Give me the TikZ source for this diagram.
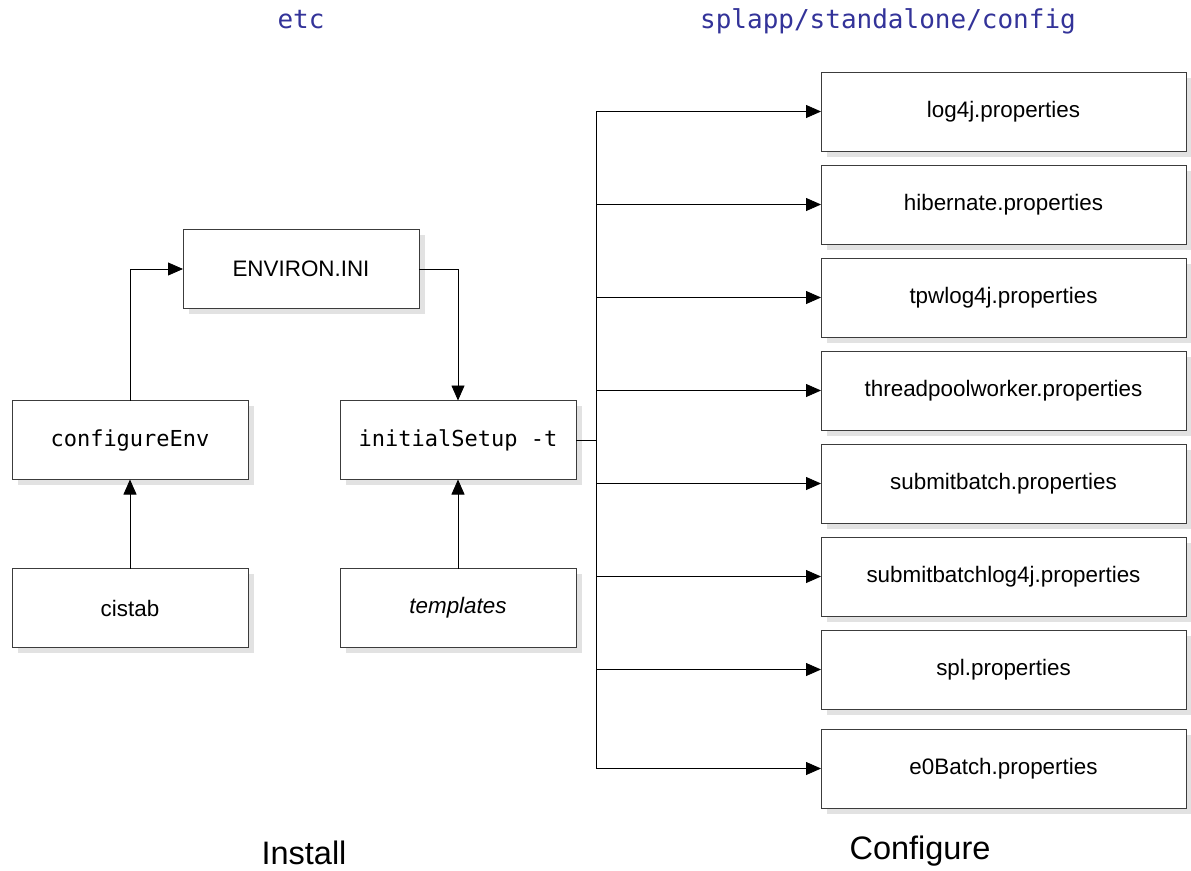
\documentclass[tikz,border=0pt]{standalone}
\usepackage{fontspec}
\setmainfont{Liberation Sans}
\newfontfamily\monof{DejaVu Sans Mono}
\usetikzlibrary{arrows.meta}
\definecolor{shadowgray}{RGB}{226,226,226}
\definecolor{boxline}{RGB}{60,60,60}
\definecolor{dirblue}{RGB}{51,51,153}
\tikzset{
  box/.style={draw=boxline, line width=0.9pt, fill=white, rectangle, inner sep=0pt, outer sep=0pt,
    font=\fontsize{22.4}{26}\selectfont,
    preaction={fill=shadowgray, transform canvas={xshift=5.5pt,yshift=-5.5pt}}},
  lbox/.style={box, minimum width=236pt, minimum height=79pt},
  rbox/.style={box, minimum width=365pt, minimum height=79pt},
  arr/.style={draw=black, line width=0.8pt, -{Triangle[length=15pt,width=13pt]}},
  conn/.style={draw=black, line width=0.8pt},
  dirlabel/.style={text=dirblue, font=\monof\fontsize{26}{30}\selectfont},
  steplabel/.style={font=\fontsize{32.5}{38}\selectfont}
}
\begin{document}
\begin{tikzpicture}[x=1pt,y=-1pt]
\useasboundingbox (0,0) rectangle (1191,870);
\fill[white] (0,0) rectangle (1191,870);

\node[dirlabel] (etc) at (301,20) {etc};
\node[dirlabel] (cfgdir) at (888,21) {splapp/standalone/config};

\node[lbox] (env) at (301,269) {ENVIRON.INI};
\node[lbox, font=\monof\fontsize{22}{26}\selectfont] (conf) at (130,440) {configureEnv};
\node[lbox, font=\monof\fontsize{22}{26}\selectfont] (init) at (458,440) {initialSetup -t};
\node[lbox] (cistab) at (130,608) {cistab};
\node[lbox] (templ) at (458,608) {\itshape templates};

\node[rbox] (r1) at (1003.5,111.5) {log4j.properties};
\node[rbox] (r2) at (1003.5,204.5) {hibernate.properties};
\node[rbox] (r3) at (1003.5,297.5) {tpwlog4j.properties};
\node[rbox] (r4) at (1003.5,390.5) {threadpoolworker.properties};
\node[rbox] (r5) at (1003.5,483.5) {submitbatch.properties};
\node[rbox] (r6) at (1003.5,576.5) {submitbatchlog4j.properties};
\node[rbox] (r7) at (1003.5,669.5) {spl.properties};
\node[rbox] (r8) at (1003.5,768.5) {e0Batch.properties};

\node[steplabel] (install) at (304,853) {Install};
\node[steplabel] (configure) at (920,851) {Configure};

\coordinate (bus) at (596,440);

\draw[arr] (conf.north) |- (env.west);
\draw[arr] (env.east) -| (init.north);
\draw[arr] (cistab.north) -- (conf.south);
\draw[arr] (templ.north) -- (init.south);
\draw[conn] (init.east) -- (bus);
\draw[conn] (bus |- r1.west) -- (bus |- r8.west);
\foreach \r in {r1,r2,r3,r4,r5,r6,r7,r8}{
  \draw[arr] (bus |- \r.west) -- (\r.west);
}
\end{tikzpicture}
\end{document}
